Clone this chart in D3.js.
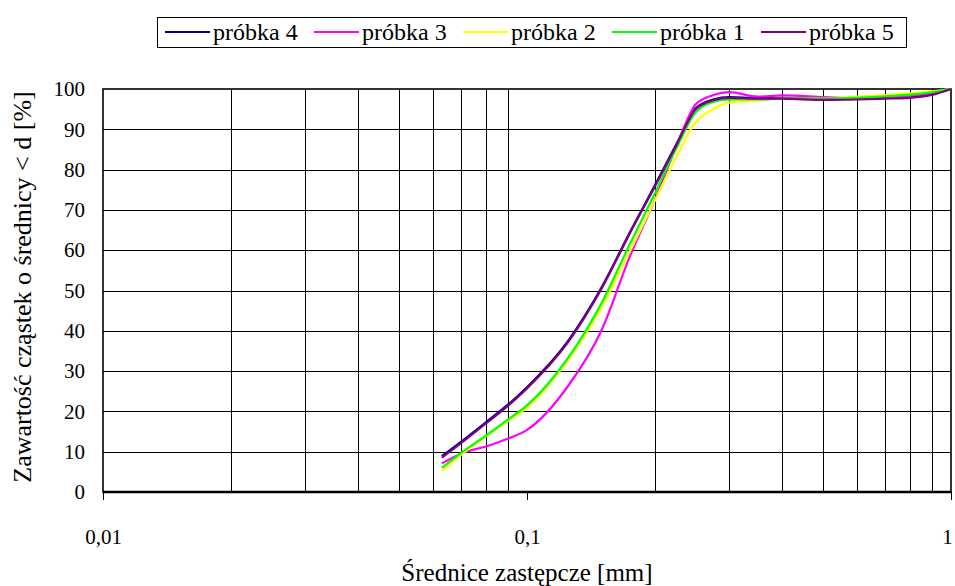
<!DOCTYPE html>
<html>
<head>
<meta charset="utf-8">
<script src="https://cdn.jsdelivr.net/npm/d3@7"></script>
<style>
  body { margin: 0; background: #fff; }
</style>
</head>
<body>
<script>
const w = 955;
const h = 586;
const margin = { top: 89, right: 4, bottom: 94, left: 103 };
const serif = "Liberation Serif";

// diameters [mm]
const diameters = [0.063, 0.071, 0.08, 0.09, 0.1, 0.125, 0.15, 0.175, 0.2, 0.225, 0.25, 0.275, 0.3, 0.35, 0.4, 0.5, 0.6, 0.7, 0.8, 0.9, 1];

const probka4 = [8.9, 13.0, 17.3, 21.6, 26.0, 37.5, 50.8, 64.5, 76.0, 86.3, 95.2, 97.4, 98.0, 97.7, 97.8, 97.5, 97.6, 97.8, 98.1, 98.8, 100];
const probka3 = [7.1, 9.8, 11.3, 13.2, 15.4, 26.3, 40.2, 58.6, 72.4, 85.7, 96.2, 98.5, 99.2, 98.1, 98.4, 98.0, 97.7, 97.9, 98.3, 99.0, 100];
const probka2 = [5.2, 9.8, 13.8, 17.6, 21.0, 32.8, 45.9, 59.8, 72.2, 83.1, 91.8, 95.0, 96.6, 97.2, 97.6, 97.6, 98.1, 98.5, 98.9, 99.4, 100];
const probka1 = [6.0, 10.2, 14.0, 17.9, 21.5, 33.3, 46.9, 61.6, 74.0, 85.3, 94.2, 96.8, 97.4, 97.4, 97.6, 97.6, 97.8, 98.2, 98.6, 99.2, 100];
const probka5 = [8.5, 12.7, 17.0, 21.3, 25.7, 37.2, 50.5, 64.3, 75.7, 86.0, 95.0, 97.2, 97.8, 97.6, 97.6, 97.3, 97.4, 97.6, 97.8, 98.5, 100];

const seriesNames = ["próbka 4", "próbka 3", "próbka 2", "próbka 1", "próbka 5"];
const seriesColors = ["#000080", "#ff00ff", "#ffff00", "#00ff00", "#800080"];
const seriesValues = [probka4, probka3, probka2, probka1, probka5];

const xTicks = [0.01, 0.1, 1];
const xTickLabels = ["0,01", "0,1", "1"];
const yTicks = [0, 10, 20, 30, 40, 50, 60, 70, 80, 90, 100];

const xScale = d3.scaleLog()
  .domain([0.01, 1])
  .range([margin.left, w - margin.right]);

const yScale = d3.scaleLinear()
  .domain([0, 100])
  .range([h - margin.bottom, margin.top]);

const svg = d3.select("body")
  .append("svg")
  .attr("width", w)
  .attr("height", h)
  .style("font-family", serif);

// GRID
const minorX = [];
[0.01, 0.1].forEach(dec => {
  for (let k = 2; k <= 9; k++) minorX.push(dec * k);
});

svg.append("g")
  .selectAll("line")
  .data(minorX)
  .join("line")
  .attr("x1", d => Math.round(xScale(d)) + 0.5)
  .attr("x2", d => Math.round(xScale(d)) + 0.5)
  .attr("y1", yScale(0))
  .attr("y2", yScale(100))
  .attr("stroke", "#000")
  .attr("stroke-width", 1)
  .attr("shape-rendering", "crispEdges");

svg.append("g")
  .selectAll("line")
  .data(yTicks.slice(1, -1))
  .join("line")
  .attr("x1", xScale(0.01))
  .attr("x2", xScale(1))
  .attr("y1", d => Math.round(yScale(d)) + 0.5)
  .attr("y2", d => Math.round(yScale(d)) + 0.5)
  .attr("stroke", "#000")
  .attr("stroke-width", 1)
  .attr("shape-rendering", "crispEdges");

// FRAME
svg.append("rect")
  .attr("x", xScale(0.01))
  .attr("y", yScale(100))
  .attr("width", xScale(1) - xScale(0.01))
  .attr("height", yScale(0) - yScale(100))
  .attr("fill", "none")
  .attr("stroke", "#000")
  .attr("stroke-width", 1.6);

// AXES
svg.append("g")
  .attr("transform", `translate(0, ${yScale(0)})`)
  .call(d3.axisBottom(xScale).tickValues(xTicks).tickSize(8).tickPadding(29)
    .tickFormat((d, i) => xTickLabels[i]))
  .attr("font-family", null)
  .call(g => g.select(".domain").attr("stroke-width", 2.5).attr("d", `M${xScale(0.01)},0H${xScale(1)}`))
  .call(g => g.selectAll("text").style("font-family", serif).style("font-size", "21px"))
  .call(g => g.selectAll(".tick:last-of-type text").attr("dx", -4));

svg.append("g")
  .attr("transform", `translate(${xScale(0.01)}, 0)`)
  .call(d3.axisLeft(yScale).tickValues(yTicks).tickSize(0).tickPadding(18))
  .attr("font-family", null)
  .call(g => g.select(".domain").remove())
  .call(g => g.selectAll("text").style("font-family", serif).style("font-size", "21px"));

// LINES
const line = d3.line()
  .x((d, i) => xScale(diameters[i]))
  .y(d => yScale(d))
  .curve(d3.curveMonotoneX);

seriesValues.forEach((vals, s) => {
  svg.append("path")
    .datum(vals)
    .attr("fill", "none")
    .attr("stroke", seriesColors[s])
    .attr("stroke-width", 2.2)
    .attr("d", line);
});

// TITLES
svg.append("text")
  .attr("x", xScale(0.1))
  .attr("y", 581)
  .attr("text-anchor", "middle")
  .style("font-family", serif)
  .style("font-size", "25px")
  .text("Średnice zastępcze [mm]");

svg.append("text")
  .attr("transform", `translate(31, 287) rotate(-90)`)
  .attr("text-anchor", "middle")
  .style("font-family", serif)
  .style("font-size", "26px")
  .text("Zawartość cząstek o średnicy < d [%]");

// LEGEND
const legend = svg.append("g");
legend.append("rect")
  .attr("x", 157.5)
  .attr("y", 17.5)
  .attr("width", 749)
  .attr("height", 30)
  .attr("fill", "#fff")
  .attr("stroke", "#000")
  .attr("stroke-width", 1);

const item = legend.selectAll("g.item")
  .data(seriesNames)
  .join("g")
  .attr("class", "item")
  .attr("transform", (d, i) => `translate(${165 + i * 149}, 32)`);

item.append("line")
  .attr("x1", 0)
  .attr("x2", 45)
  .attr("stroke", (d, i) => seriesColors[i])
  .attr("stroke-width", 2.2);

item.append("text")
  .attr("x", 48)
  .attr("y", 8)
  .style("font-family", serif)
  .style("font-size", "24px")
  .text(d => d);
</script>
</body>
</html>
